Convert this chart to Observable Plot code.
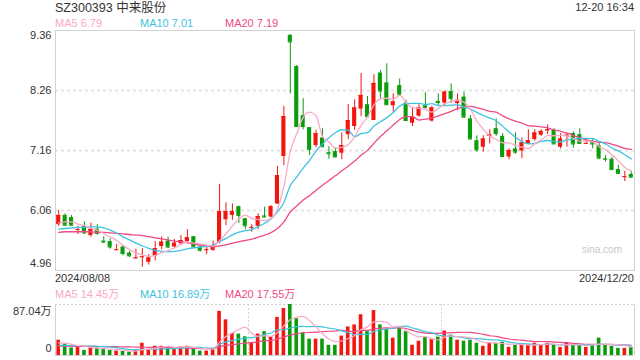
<!DOCTYPE html>
<html><head><meta charset="utf-8">
<script src="https://cdn.jsdelivr.net/npm/d3@7"></script>
<script src="https://cdn.jsdelivr.net/npm/@observablehq/plot@0.6"></script>
<style>
body{margin:0;background:#fff;}
#wrap{position:relative;width:640px;height:360px;overflow:hidden;font-family:Arial,"Liberation Sans","Noto Sans CJK SC",sans-serif;color:#333;}
#wrap .t{position:absolute;white-space:nowrap;line-height:1;}
#main,#vol{position:absolute;left:0;}
#main{top:0}
#vol{top:300px}
</style></head>
<body><div id="wrap"></div>
<script>
const title = "SZ300393 中来股份";
const stamp = "12-20 16:34";
const xLabels = ["2024/08/08", "2024/12/20"];
const priceTicks = [4.96, 6.06, 7.16, 8.26, 9.36];
const volMax = 87.04;
const maNames = ["MA5", "MA10", "MA20"];
const priceMALast = [6.79, 7.01, 7.19];
const volMALast = [14.45, 16.89, 17.55];

const open = [5.80,5.97,5.93,5.70,5.77,5.60,5.72,5.50,5.49,5.33,5.39,5.28,5.18,5.20,5.11,5.22,5.40,5.50,5.39,5.45,
5.49,5.58,5.39,5.33,5.33,5.48,5.89,5.97,6.13,5.91,5.74,5.77,5.96,5.94,6.18,7.05,9.27,8.70,7.80,7.58,
7.25,7.39,7.12,7.14,7.11,7.45,7.60,7.92,8.00,7.71,8.58,8.40,7.98,8.35,8.03,7.66,7.79,7.98,7.70,8.06,
8.03,8.24,8.02,8.14,7.74,7.34,7.22,7.42,7.56,7.42,7.04,7.19,7.15,7.28,7.36,7.44,7.52,7.53,7.22,7.42,
7.47,7.45,7.28,7.31,7.25,7.01,7.00,6.81,6.67,6.72];
const high = [6.06,6.00,5.97,5.77,5.85,5.83,5.80,5.58,5.54,5.44,5.42,5.31,5.35,5.36,5.25,5.49,5.58,5.57,5.53,5.60,
5.71,5.58,5.42,5.40,5.50,6.54,6.20,6.18,6.14,5.91,5.80,6.00,6.12,6.15,6.87,7.97,9.29,8.72,8.11,7.58,
7.53,7.56,7.23,7.21,7.48,8.00,8.09,8.57,8.15,8.55,8.63,8.75,8.20,8.47,8.08,7.95,8.00,8.22,7.97,8.20,
8.25,8.38,8.20,8.23,7.80,7.43,7.43,7.54,7.74,7.47,7.19,7.48,7.39,7.54,7.54,7.54,7.63,7.56,7.47,7.47,
7.50,7.56,7.37,7.37,7.29,7.07,7.04,6.89,6.78,6.78];
const low = [5.77,5.77,5.77,5.62,5.62,5.57,5.61,5.46,5.35,5.33,5.23,5.20,5.17,5.02,5.06,5.14,5.34,5.36,5.36,5.42,
5.46,5.38,5.30,5.25,5.31,5.45,5.78,5.88,5.82,5.71,5.66,5.71,5.93,5.92,6.17,6.88,8.20,7.58,7.54,7.07,
7.21,7.21,7.00,7.03,6.99,7.36,7.53,7.78,7.78,7.71,8.11,7.98,7.86,8.15,7.70,7.60,7.77,7.92,7.68,7.98,
7.98,8.02,7.89,7.77,7.36,7.13,7.13,7.28,7.42,7.04,6.99,7.09,7.01,7.27,7.33,7.42,7.45,7.27,7.19,7.22,
7.20,7.28,7.28,7.19,6.99,6.95,6.81,6.72,6.59,6.66];
const close = [5.97,5.79,5.79,5.71,5.65,5.71,5.64,5.48,5.39,5.34,5.27,5.23,5.19,5.21,5.19,5.36,5.48,5.39,5.46,5.51,
5.56,5.39,5.33,5.34,5.42,6.04,6.04,6.04,5.97,5.78,5.75,5.95,5.94,6.13,6.70,7.78,9.15,7.60,7.60,7.18,
7.47,7.23,7.10,7.04,7.25,7.71,7.94,8.17,7.78,8.39,8.25,8.00,8.05,8.19,7.71,7.77,7.94,7.95,7.94,8.04,
8.23,8.11,8.08,7.77,7.37,7.17,7.37,7.45,7.47,7.05,7.16,7.13,7.30,7.34,7.48,7.51,7.54,7.28,7.37,7.44,
7.28,7.29,7.29,7.28,7.02,7.00,6.81,6.74,6.68,6.67];
// volume in 万
const volume = [26.1,19.2,12.8,15.7,8.7,13.3,12.8,10.4,8.7,7.5,7.0,5.8,8.7,20.9,10.4,15.7,15.7,14.5,12.8,14.5,
15.7,11.6,7.5,7.5,11.6,75.4,60.9,37.7,36.6,31.9,21.5,36.6,40.6,31.9,65.0,80.1,87.0,62.7,38.9,27.9,
27.9,27.9,17.4,17.4,33.1,48.7,52.2,69.6,40.6,76.6,52.2,44.7,29.6,46.4,40.6,17.4,24.4,31.3,27.9,31.3,
41.8,34.8,26.1,24.4,26.1,20.9,15.7,22.1,20.9,22.6,13.9,17.4,17.4,18.6,20.9,18.6,20.9,17.4,13.9,22.1,
18.6,17.4,13.9,17.4,29.6,17.4,15.7,12.2,12.2,13.9];
// moving-average values before enough in-chart days exist
const ma5Head = [5.83,5.85,5.85,5.81];
const ma10Head = [5.72,5.73,5.74,5.75,5.75,5.76,5.76,5.74,5.70];
const ma20Head = [5.66,5.67,5.67,5.67,5.67,5.67,5.66,5.66,5.65,5.64,5.63,5.62,5.61,5.60,5.58,5.56,5.54,5.52,5.50];
const vma5Head = [21.5,21.0,19.0,17.0];
const vma10Head = [17.4,17.2,17.0,16.8,16.5,16.2,15.8,15.2,14.5];
const vma20Head = [15.8,15.8,15.7,15.7,15.6,15.5,15.4,15.3,15.1,15.0,14.8,14.6,14.4,14.2,14.0,13.8,13.6,13.4,13.2];

const UP = "#f3160f", DOWN = "#0a9c0a";
const C5 = "#f9a9c5", C10 = "#3fc3e0", C20 = "#ee4a86";
const MAC = [C5, C10, C20];
const FONT = 'Arial,"Liberation Sans","Noto Sans CJK SC",sans-serif';

function ma(arr, k, head) {
  return arr.map((_, i) => i >= k - 1 ? d3.mean(arr.slice(i - k + 1, i + 1)) : head[i]);
}
const data = close.map((c, i) => ({i, o: open[i], h: high[i], l: low[i], c, v: volume[i],
  col: c >= open[i] ? UP : DOWN}));
const m5 = ma(close, 5, ma5Head), m10 = ma(close, 10, ma10Head), m20 = ma(close, 20, ma20Head);
const v5 = ma(volume, 5, vma5Head), v10 = ma(volume, 10, vma10Head), v20 = ma(volume, 20, vma20Head);
const idx = d3.range(close.length);
const xDomain = [-0.5, close.length - 0.5];
const hw = 0.32;

const mainPlot = Plot.plot({
  width: 640, height: 272, marginTop: 30, marginBottom: 2, marginLeft: 55, marginRight: 6,
  x: {domain: xDomain, axis: null},
  y: {domain: [priceTicks[0], priceTicks[priceTicks.length - 1]], axis: null},
  style: {fontFamily: FONT, fontSize: "11px", color: "#333", background: "transparent"},
  marks: [
    Plot.ruleY(priceTicks.slice(1, -1), {stroke: "#e3e3e3", strokeWidth: 2, strokeDasharray: "3,3"}),
    Plot.frame({stroke: "#d2d2d2"}),
    Plot.text(priceTicks.slice(1, -1), {y: d => d, text: d => d.toFixed(2), frameAnchor: "left", dx: -4, textAnchor: "end", fontSize: 11, fill: "#333"}),
    Plot.text([priceTicks[priceTicks.length - 1]], {y: d => d, text: d => d.toFixed(2), frameAnchor: "left", dx: -4, dy: 5, textAnchor: "end", fontSize: 11, fill: "#333"}),
    Plot.text([priceTicks[0]], {y: d => d, text: d => d.toFixed(2), frameAnchor: "left", dx: -4, dy: -7, textAnchor: "end", fontSize: 11, fill: "#333"}),
    Plot.ruleX(data, {x: "i", y1: "l", y2: "h", stroke: "col", strokeWidth: 1}),
    Plot.rect(data, {x1: d => d.i - hw, x2: d => d.i + hw, y1: d => Math.min(d.o, d.c), y2: d => Math.max(d.o, d.c), fill: "col"}),
    Plot.ruleY(data, {x1: d => d.i - hw, x2: d => d.i + hw, y: "c", stroke: "col", strokeWidth: 1}),
    Plot.line(idx, {x: d => d, y: d => m20[d], stroke: C20, strokeWidth: 1.3, curve: "monotone-x"}),
    Plot.line(idx, {x: d => d, y: d => m10[d], stroke: C10, strokeWidth: 1.3, curve: "monotone-x"}),
    Plot.line(idx, {x: d => d, y: d => m5[d], stroke: C5, strokeWidth: 1.3, curve: "monotone-x"})
  ]
});
mainPlot.id = "main";

const thirds = [1, 2].map(k => xDomain[0] + (xDomain[1] - xDomain[0]) * k / 3);
const volPlot = Plot.plot({
  width: 640, height: 60, marginTop: 4, marginBottom: 5, marginLeft: 55, marginRight: 6,
  x: {domain: xDomain, axis: null},
  y: {domain: [0, volMax], axis: null},
  style: {fontFamily: FONT, fontSize: "11px", color: "#333", background: "transparent"},
  marks: [
    Plot.ruleY([volMax], {stroke: "#cfcfcf", strokeWidth: 1.2, strokeDasharray: "2,2"}),
    Plot.ruleX(thirds, {stroke: "#d6d6d6", strokeWidth: 1, strokeDasharray: "2,2"}),
    Plot.ruleX(xDomain, {stroke: "#d2d2d2"}),
    Plot.ruleY([0], {stroke: "#d2d2d2"}),
    Plot.text([volMax], {y: d => d, text: d => d.toFixed(2) + "万", frameAnchor: "left", dx: -4, dy: 7, textAnchor: "end", fontSize: 11, fill: "#333"}),
    Plot.text([0], {y: d => d, text: d => String(d), frameAnchor: "left", dx: -4, dy: -7, textAnchor: "end", fontSize: 11, fill: "#333"}),
    Plot.rect(data, {x1: d => d.i - 0.28, x2: d => d.i + 0.28, y1: 0, y2: "v", fill: "col"}),
    Plot.line(idx, {x: d => d, y: d => v20[d], stroke: C20, strokeWidth: 1.2, curve: "monotone-x"}),
    Plot.line(idx, {x: d => d, y: d => v10[d], stroke: C10, strokeWidth: 1.2, curve: "monotone-x"}),
    Plot.line(idx, {x: d => d, y: d => v5[d], stroke: C5, strokeWidth: 1.2, curve: "monotone-x"})
  ]
});
volPlot.id = "vol";

const wrap = document.getElementById("wrap");
wrap.appendChild(mainPlot);
wrap.appendChild(volPlot);

function label(text, css) {
  const d = document.createElement("div");
  d.className = "t";
  d.textContent = text;
  Object.assign(d.style, css);
  wrap.appendChild(d);
}
const maLeft = ["55px", "140px", "225px"];
label(title, {left: "55px", top: "2px", fontSize: "12.5px", color: "#333"});
label(stamp, {right: "6px", top: "2px", fontSize: "11px", color: "#333"});
maNames.forEach((n, k) => label(n + " " + priceMALast[k].toFixed(2), {left: maLeft[k], top: "18px", fontSize: "11px", color: MAC[k]}));
label("sina.com", {left: "582px", top: "245px", fontSize: "10px", color: "#c8c8c8"});
label(xLabels[0], {left: "55px", top: "273px", fontSize: "11px", color: "#333"});
label(xLabels[1], {right: "6px", top: "273px", fontSize: "11px", color: "#333"});
maNames.forEach((n, k) => label(n + " " + volMALast[k].toFixed(2) + "万", {left: maLeft[k], top: "289px", fontSize: "11px", color: MAC[k]}));
</script>
</body></html>
